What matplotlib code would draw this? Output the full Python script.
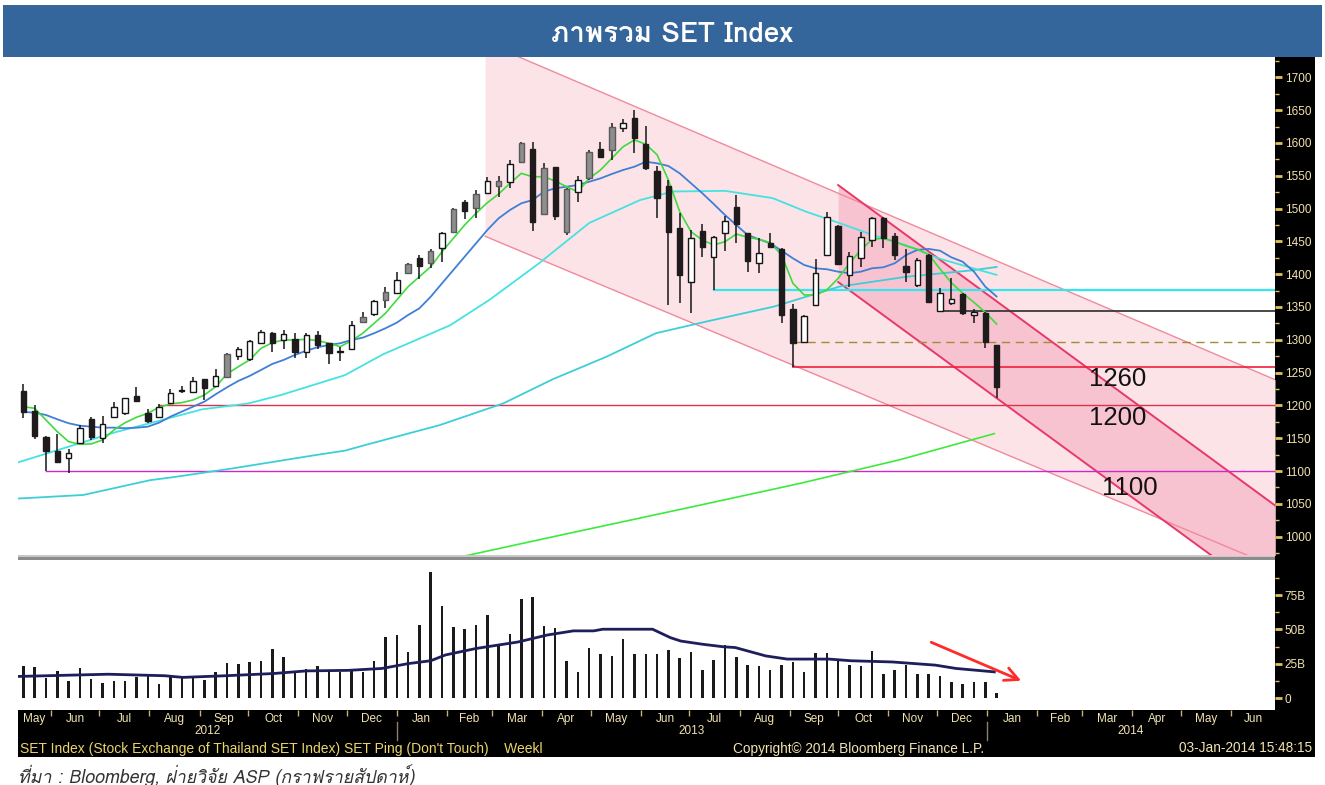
import datetime as dt
import numpy as np
import matplotlib
matplotlib.use("Agg")
import matplotlib.pyplot as plt
from matplotlib import font_manager, transforms
from matplotlib.patches import Rectangle
from matplotlib.lines import Line2D
from matplotlib.ft2font import FT2Font

# ---------------- data ----------------
first_week = dt.date(2012, 5, 11)          # week-ending Friday of first bar
opens = [1222, 1191.5, 1152.4, 1130.6, 1119.5, 1142.3, 1179.4, 1150.9, 1182.9, 1189,
         1214.4, 1188, 1182, 1204.2, 1222, 1220, 1240.3, 1230, 1243.8, 1275.3,
         1270.3, 1294.7, 1309.9, 1299.7, 1300.8, 1281.9, 1307.3, 1294.7, 1281.5, 1286.7,
         1327.6, 1339.3, 1360.7, 1370.9, 1401.4, 1424.2, 1416.6, 1440.4, 1464.7, 1510,
         1500.4, 1524.2, 1534.4, 1540, 1571.6, 1590.3, 1491.3, 1562.9, 1464.7, 1524.8,
         1546.1, 1590.3, 1589.2, 1622.3, 1637.5, 1598, 1557.2, 1534.4, 1470.8, 1388.6,
         1465.8, 1426.7, 1463.2, 1501.9, 1462.1, 1417.5, 1447, 1437.9, 1346.9, 1297.2,
         1353, 1429.2, 1473.4, 1399.3, 1424.2, 1452, 1485.2, 1458.2, 1412.5, 1383.5,
         1429.2, 1344.4, 1356.6, 1369.8, 1337.8, 1341.3, 1292.1]
highs = [1232.7, 1200.6, 1153, 1156, 1133, 1170.2, 1182.9, 1184.4, 1204.8, 1211.8,
         1228.6, 1194.6, 1202, 1224.6, 1229.6, 1244, 1240.5, 1255.5, 1280.4, 1289.6,
         1299.5, 1315, 1312.4, 1315, 1310.9, 1310.9, 1313.9, 1295.6, 1289.6, 1329,
         1342.8, 1360.7, 1381, 1402.9, 1416.6, 1429.2, 1437.9, 1464.7, 1500.4, 1513,
         1528.3, 1548.5, 1549.6, 1574, 1601.9, 1601.9, 1569, 1563.8, 1530.9, 1550,
         1589.2, 1601.9, 1630, 1636, 1650.2, 1625.8, 1564.5, 1543.5, 1492.8, 1467.3,
         1476, 1458.2, 1488.7, 1520.7, 1463.2, 1454.7, 1462.1, 1439.4, 1354.6, 1337.8,
         1422.7, 1495.2, 1474.5, 1433.2, 1464.7, 1486.7, 1486.7, 1462.1, 1437.9, 1424.2,
         1430.8, 1378.5, 1393.7, 1371.8, 1346.5, 1342.8, 1292.1]
lows = [1180.4, 1148.4, 1100.6, 1113, 1097.5, 1141, 1147.3, 1143.2, 1180.4, 1185.5,
        1206.8, 1172.8, 1182, 1203.3, 1218.5, 1218.5, 1208.3, 1227.6, 1242.9, 1269,
        1268, 1293.9, 1281.9, 1285.6, 1271.8, 1272.7, 1285.6, 1263.2, 1267.7, 1285.6,
        1326.7, 1336.3, 1348, 1369.4, 1400.3, 1393, 1409, 1419, 1463.2, 1483.6,
        1485.2, 1522.2, 1518, 1530.9, 1570, 1466.3, 1490.2, 1482.6, 1459.7, 1509.5,
        1543.5, 1576.6, 1574, 1617, 1585, 1558.7, 1485.3, 1353, 1355.6, 1340.4,
        1425.7, 1375.9, 1435.8, 1447, 1403.8, 1402.3, 1441, 1326.1, 1259, 1296.2,
        1351.5, 1427.7, 1414, 1380.9, 1411.4, 1441.9, 1439.4, 1421.6, 1388.6, 1380,
        1355.6, 1342.8, 1353, 1337.8, 1326.1, 1287, 1210.9]
closes = [1190.5, 1153.4, 1131, 1113.4, 1127, 1166, 1152.4, 1171.7, 1198, 1210.9,
          1207.2, 1176.8, 1198, 1219.5, 1223, 1237.3, 1227, 1244.9, 1277.9, 1285.6,
          1298.7, 1312.4, 1295.6, 1308.4, 1281, 1307.3, 1292, 1279.5, 1282.5, 1322.2,
          1335.2, 1359.1, 1372.4, 1391.1, 1415.5, 1412.5, 1435.8, 1463.2, 1498.9, 1496.3,
          1521.7, 1542, 1542, 1568.2, 1599.6, 1480, 1561.3, 1488.7, 1529.3, 1544,
          1585.7, 1579, 1624.7, 1630, 1607, 1562.3, 1515.6, 1464.7, 1398.8, 1454.7,
          1441, 1457.1, 1481.5, 1476.5, 1420.6, 1431.8, 1441.9, 1337.8, 1294.7, 1336.3,
          1401.4, 1486.7, 1415.5, 1428.2, 1457.1, 1485.2, 1454.7, 1429.2, 1403.8, 1421.6,
          1357.2, 1371.8, 1361.7, 1340.4, 1342.8, 1296.2, 1228.6]
# body shading as printed by Bloomberg: d = filled black, u = hollow, g = grey
candle_kind = list("dddduuduuu" "dduuuudugu" "uudududduu" "gugugdgugd" "gugugdgdgu"
                   "gdgudddddu" "duuddudddu" "uuduuudddu" "duududd")
volume_b = [23.8, 23.1, 14.7, 19.9, 12.9, 22.2, 14, 11.2, 12.9, 12.9,
            15.2, 16.4, 10.5, 16.8, 15.2, 15.2, 13.6, 19.2, 25.7, 25,
            26.4, 27.3, 35.5, 29.7, 19.2, 21, 23.4, 19.9, 19.4, 21,
            19.4, 27.3, 44.9, 46, 33.9, 53, 91.6, 67, 51.9, 50.2,
            53, 60.3, 37.9, 46.7, 72, 73.6, 52.6, 51.4, 26.9, 19.4,
            36.9, 32.5, 31.1, 42.8, 32.5, 32.5, 32.5, 35, 29.2, 33.9,
            20.3, 28, 38.6, 29.7, 24.5, 23.4, 20.3, 24.5, 26.2, 19.4,
            32.7, 33.2, 26.9, 24.5, 23.8, 34.3, 17.5, 20.3, 24.5, 18,
            17.5, 16.4, 11.7, 10.5, 11.7, 11.7, 4]
ma_short = [1198, 1195.6, 1177.8, 1160, 1144.8, 1140.8, 1141.3, 1147.3, 1162.6, 1173.7,
            1181.9, 1188, 1197.2, 1202.2, 1204.2, 1208.3, 1215.9, 1228.6, 1248, 1259,
            1269.3, 1287, 1295.6, 1299.7, 1299.7, 1300.8, 1298.7, 1294.7, 1289.5, 1298.7,
            1310, 1325.2, 1340.4, 1360.7, 1381, 1396.2, 1411.4, 1434.3, 1454.7, 1475,
            1492.8, 1508.9, 1522.2, 1538.5, 1553.7, 1548.5, 1548.5, 1542, 1533.3, 1525.7,
            1546, 1558.8, 1576.6, 1594.3, 1604.5, 1598, 1582, 1543.5, 1495.2, 1464.7,
            1452, 1444.5, 1449.5, 1461.2, 1456.2, 1453.2, 1448, 1429.2, 1386.1, 1368.3,
            1368.3, 1376, 1393.7, 1416.6, 1436.9, 1453.2, 1454.7, 1449.5, 1443, 1438,
            1430, 1408, 1387, 1371, 1357, 1342, 1324]
ma_mid = [1190, 1189, 1185.4, 1178.9, 1172.8, 1169.1, 1167.6, 1166.1, 1166.1, 1165.2,
          1166, 1167.6, 1173.7, 1182.9, 1190.5, 1198.1, 1205.7, 1217, 1227.6, 1237.3,
          1244.9, 1254, 1263.2, 1269.3, 1276.9, 1283.4, 1288.6, 1292.1, 1294.7, 1299.7,
          1303.3, 1310, 1317.6, 1326.1, 1337.8, 1348, 1365.7, 1386.1, 1406.4, 1426.7,
          1447, 1467.3, 1485.2, 1497.8, 1508, 1513, 1525.7, 1530.9, 1533.3, 1535.9,
          1540.9, 1546, 1552.7, 1558.8, 1563.8, 1571.4, 1569, 1564.9, 1553.7, 1538.5,
          1523.3, 1507, 1490.2, 1475, 1459.7, 1453.2, 1447, 1435.8, 1424.2, 1414,
          1408.9, 1407.5, 1403.8, 1401.4, 1403.8, 1409, 1410.5, 1416.6, 1429.2, 1437,
          1438.5, 1435.8, 1425.7, 1419, 1403.8, 1381, 1366]
ma_long_wk = [-0.5, 8.1, 11, 15.8, 19.9, 22.8, 28.4, 31.8, 37.7, 41.2, 45.6, 50, 54.5, 57.4,
              62, 66.2, 69.2, 72.1, 75, 78, 80.9, 83.9, 86]
ma_long = [1113, 1159, 1172, 1194, 1203, 1216, 1246, 1278, 1322, 1361, 1417, 1478, 1513, 1526,
           1527, 1516, 1495, 1478, 1460, 1444, 1424, 1409, 1399]
ma_year_wk = [-0.5, 5.3, 11.2, 13.4, 18.5, 25.9, 28.4, 30.3, 36.8, 42.4, 46.8, 51.5, 55.9,
              60.4, 66.3, 72.1, 78, 83.9, 86]
ma_year = [1058, 1063.5, 1086, 1091, 1104, 1124.5, 1131, 1140, 1170, 1203, 1240, 1274, 1310,
           1328, 1350.5, 1381, 1396, 1406, 1411]
ma_200_wk = [38, 39.4, 47.4, 59.8, 68.6, 77.4, 85.8]
ma_200 = [967, 972, 1002, 1048, 1081, 1117, 1157]
vol_ma_wk = [-0.4, 7.5, 12.5, 14.1, 17.9, 22.1, 25, 28.7, 31.7, 34, 36, 37.3, 40, 43.7, 46.3,
             48.6, 50.4, 51.2, 55.6, 57.2, 58.1, 60, 61.9, 62.9, 65.6, 67.5, 71.2, 73.1,
             76.8, 80.6, 82.4, 85.8]
vol_ma = [15.9, 17.5, 16.4, 15.2, 16.4, 18, 19.9, 20.3, 21.7, 25.2, 27.3, 31.5, 36.2, 40.9,
          46, 49, 49, 50.2, 50.2, 44, 41.6, 39.3, 37.4, 36.9, 30.8, 28.5, 28.5, 27.3, 26.4,
          24.1, 21.7, 19.2]
# analyst levels: value, first week
levels = [1376, 1344, 1296, 1259, 1201, 1100]
level_start = [61, 81, 68, 68, 12, 2]
level_labels = ["1260", "1200", "1100"]
label_at = [(94.2, 1240), (94.2, 1181), (95.3, 1074)]
# trend channels: two (week, price) anchor points per line
big_upper = [(50.65, 1680.6), (110.66, 1238.8)]
big_lower = [(41.23, 1454.7), (62.7, 1299.7)]
small_upper = [(71.99, 1535.9), (110.6, 1047.6)]
small_lower = [(72.15, 1386.1), (88.64, 1177.8)]
arrow_from, arrow_to = (80.0, 41.5), (88.4, 12.0)
months = ["Jan", "Feb", "Mar", "Apr", "May", "Jun", "Jul", "Aug", "Sep", "Oct", "Nov", "Dec"]

assert len(candle_kind) == 87, len(candle_kind)
for arr in (opens, highs, lows, closes, volume_b, ma_short, ma_mid):
    assert len(arr) == 87, len(arr)


# ---------------- fonts ----------------
def fonts_with(ch):
    names = []
    for f in font_manager.fontManager.ttflist:
        try:
            if ord(ch) in FT2Font(f.fname).get_charmap():
                names.append(f.name)
        except Exception:
            pass
    return names


thai = fonts_with("ภ")
thai_family = ([thai[0]] if thai else []) + ["DejaVu Sans"]
avail = {f.name for f in font_manager.fontManager.ttflist}
arial = "Liberation Sans" if "Liberation Sans" in avail else "DejaVu Sans"
bbg = arial

# ---------------- figure ----------------
W, H = 1325, 785
fig = plt.figure(figsize=(W / 100, H / 100), dpi=100)
fig.patch.set_facecolor("white")


def frect(x0, y0, x1, y1, color, z=-1):
    fig.add_artist(Rectangle((x0 / W, 1 - y1 / H), (x1 - x0) / W, (y1 - y0) / H,
                             transform=fig.transFigure, facecolor=color,
                             edgecolor="none", zorder=z))


frect(3, 5, 1322, 57, "#34659B")          # title bar
frect(1275, 57, 1315, 757, "black")       # right scale strip
frect(18, 710, 1315, 757, "black")        # date + footer strip
frect(18, 555, 1275, 560, "#8C8C8C")      # panel separator
frect(18, 555, 1275, 556.5, "#C8C8C8")

XMIN, XMAX = -0.47, 110.6
ax = fig.add_axes([18 / W, 1 - 555 / H, 1257 / W, 498 / H])
axv = fig.add_axes([18 / W, 1 - 710 / H, 1257 / W, 150 / H], sharex=ax)
for a in (ax, axv):
    a.set_facecolor("white")
    for s in a.spines.values():
        s.set_visible(False)
ax.set_xlim(XMIN, XMAX)
ax.set_ylim(972, 1731)
axv.set_ylim(-8.5, 100.5)

scale_col, lab_col = "#E2C25A", "#F2E3B0"
for a in (ax, axv):
    a.yaxis.tick_right()
    a.tick_params(axis="y", which="major", direction="out", length=5, width=2,
                  color=scale_col, labelcolor=lab_col, labelsize=8.5, pad=2)
    a.tick_params(axis="y", which="minor", direction="out", length=3, width=1, color=scale_col)
ax.set_yticks(np.arange(1000, 1701, 50))
ax.set_yticks(np.arange(975, 1726, 25), minor=True)
axv.set_yticks([0, 25, 50, 75])
axv.set_yticklabels(["0", "25B", "50B", "75B"])
axv.set_yticks([12.5, 37.5, 62.5, 87.5], minor=True)
for lab in ax.get_yticklabels() + axv.get_yticklabels():
    lab.set_family(bbg)
ax.tick_params(axis="x", which="both", bottom=False, labelbottom=False)

wk = np.arange(len(opens))


def line_through(pts, xs):
    (x0, y0), (x1, y1) = pts
    return y0 + (y1 - y0) * (np.asarray(xs) - x0) / (x1 - x0)


# channels
xb = np.linspace(40.8, XMAX, 200)
ax.fill_between(xb, line_through(big_lower, xb), line_through(big_upper, xb),
                color="#FCE3E7", lw=0, zorder=0)
xs = np.linspace(72.0, XMAX, 200)
ax.fill_between(xs, line_through(small_lower, xs), line_through(small_upper, xs),
                color="#F8C3D0", lw=0, zorder=0.5)
ax.plot(xb, line_through(big_upper, xb), color="#F08A9C", lw=1.0, zorder=1)
ax.plot(xb, line_through(big_lower, xb), color="#F08A9C", lw=1.0, zorder=1)
ax.plot(xs, line_through(small_upper, xs), color="#E8386A", lw=1.4, zorder=1)
ax.plot(xs, line_through(small_lower, xs), color="#E8386A", lw=1.4, zorder=1)

# horizontal levels
lvl_style = [("#35E6F0", 1.6, "-"), ("#3A3A3A", 1.3, "-"), ("#A08C3A", 1.0, (0, (6, 4))),
             ("#F0203A", 1.2, "-"), ("#E03050", 1.0, "-"), ("#D028C8", 1.0, "-")]
for v, s0, (c, lw, ls) in zip(levels, level_start, lvl_style):
    ax.plot([s0, XMAX], [v, v], color=c, lw=lw, ls=ls, zorder=2)

# moving averages
ax.plot(ma_200_wk, ma_200, color="#3CEB3C", lw=1.2, zorder=2.5)
ax.plot(ma_year_wk, ma_year, color="#3CCFD8", lw=1.3, zorder=2.5)
ax.plot(ma_long_wk, ma_long, color="#45E2E2", lw=1.3, zorder=2.6)
ax.plot(wk, ma_mid, color="#3F7FD6", lw=1.3, zorder=2.7)
ax.plot(wk, ma_short, color="#3EDB3E", lw=1.2, zorder=2.8)

# candles
bw = 0.48
for i, (o, h, l, c, k) in enumerate(zip(opens, highs, lows, closes, candle_kind)):
    ax.plot([i, i], [l, h], color="#151515", lw=1.1, zorder=3, solid_capstyle="butt")
    lo, hi = min(o, c), max(o, c)
    if k == "d":
        fc, ec = "#1F1A1B", "#1F1A1B"
    elif k == "g":
        fc, ec = "#8E8E8E", "#5A5A5A"
    else:
        fc, ec = "white", "#151515"
    ax.add_patch(Rectangle((i - bw / 2, lo), bw, max(hi - lo, 1.2), facecolor=fc,
                           edgecolor=ec, lw=1.0, zorder=4))

for txt, (x, y) in zip(level_labels, label_at):
    ax.text(x, y, txt, fontsize=18.5, family=arial, color="#111111", ha="left",
            va="center", zorder=6)

# volume
axv.bar(wk, volume_b, width=0.22, color="#1A1A1A", zorder=2)
axv.plot(vol_ma_wk, vol_ma, color="#1E1E5A", lw=2.0, zorder=3)
axv.annotate("", xy=arrow_to, xytext=arrow_from,
             arrowprops=dict(arrowstyle="->", color="#FF2A2A", lw=2.0, mutation_scale=24),
             zorder=5)


# date axis
def wpos(d):
    return ((d - first_week).days - 4) / 7.0


starts = []
y, m = 2012, 5
while (y, m) <= (2014, 7):
    starts.append(dt.date(y, m, 1))
    m += 1
    if m > 12:
        y, m = y + 1, 1
centers, names, bounds = [], [], []
for d0, d1 in zip(starts[:-1], starts[1:]):
    a, b = max(wpos(d0), XMIN), min(wpos(d1), XMAX)
    centers.append((a + b) / 2)
    names.append(months[d0.month - 1])
    if XMIN < wpos(d1) < XMAX:
        bounds.append(wpos(d1))
axv.set_xticks(centers)
axv.set_xticklabels(names)
axv.set_xticks(bounds, minor=True)
axv.tick_params(axis="x", which="major", length=0, pad=2.5, labelcolor=lab_col, labelsize=8.5)
axv.tick_params(axis="x", which="minor", length=4, width=1, color="#C9B272", direction="out")
for lab in axv.get_xticklabels():
    lab.set_family(bbg)

blend = transforms.blended_transform_factory(axv.transData, fig.transFigure)
year_edges = [XMIN, wpos(dt.date(2013, 1, 1)), wpos(dt.date(2014, 1, 1)), XMAX]
for yr, a, b in zip(["2012", "2013", "2014"], year_edges[:-1], year_edges[1:]):
    fig.text((a + b) / 2, 1 - 731 / H, yr, transform=blend, ha="center", va="center",
             color=lab_col, fontsize=8.5, family=bbg)
for e in year_edges[1:3]:
    fig.add_artist(Line2D([e, e], [1 - 722 / H, 1 - 740 / H], transform=blend,
                          color="#8A8070", lw=1))

fig.text(20 / W, 1 - 748.5 / H,
         "SET Index (Stock Exchange of Thailand SET Index) SET Ping (Don't Touch)    Weekl",
         color="#EBD46C", fontsize=10, family=bbg, va="center", ha="left")
fig.text(859 / W, 1 - 748.5 / H, "Copyright\u00a9 2014 Bloomberg Finance L.P.",
         color=lab_col, fontsize=9.8, family=bbg, va="center", ha="center")
fig.text(1312 / W, 1 - 748.5 / H, "03-Jan-2014 15:48:15", color=lab_col, fontsize=9.8,
         family=bbg, va="center", ha="right")

fig.text(672 / W, 1 - 35 / H, "ภาพรวม SET Index", color="white", fontsize=20,
         family=thai_family, weight="bold", ha="center", va="center")
fig.text(18 / W, 1 - 776 / H, "ที่มา : Bloomberg, ฝ่ายวิจัย ASP (กราฟรายสัปดาห์)",
         color="#333333", fontsize=12.8, family=thai_family, style="italic",
         ha="left", va="center")

fig.savefig("out.png", dpi=100, facecolor="white")
